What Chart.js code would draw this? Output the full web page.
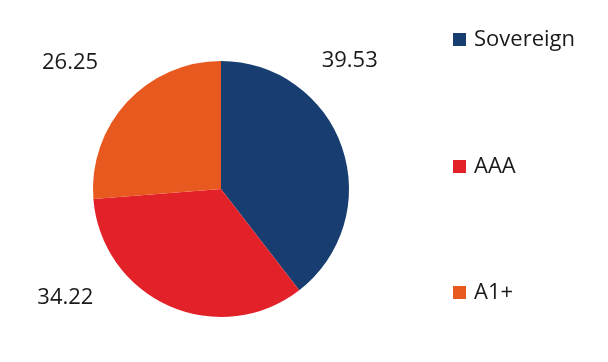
<!doctype html>
<html>

<head>
  <title>Rating distribution</title>
  <script src="https://cdn.jsdelivr.net/npm/chart.js@4.4.0/dist/chart.umd.min.js"></script>
  <style>
    html, body {
      margin: 0;
      padding: 0;
      background: #fff;
    }
    .chart {
      width: 608px;
      height: 362px;
    }
  </style>
</head>

<body>
  <div class="chart">
    <canvas id="myChart" width="608" height="362"></canvas>
  </div>

  <script>
    var ratings = ['Sovereign', 'AAA', 'A1+'];
    var shares = [39.53, 34.22, 26.25];
    var sliceColors = ['#183D70', '#E32129', '#E8591F'];

    var fontFamily = '"Open Sans", "Noto Sans", sans-serif';

    // value labels: angle (deg, clockwise from top) and distance from pie centre
    var labelSpots = [
      { angle: 45, dist: 182 },
      { angle: 235, dist: 190 },
      { angle: 310, dist: 197 }
    ];

    var labelsPlugin = {
      id: 'outerLabels',
      afterDraw: function(chart) {
        var ctx = chart.ctx;
        var meta = chart.getDatasetMeta(0);
        var arc = meta.data[0];
        var cx = arc.x, cy = arc.y;
        ctx.save();
        ctx.font = '22px ' + fontFamily;
        ctx.fillStyle = '#1a1a1a';
        ctx.textAlign = 'center';
        ctx.textBaseline = 'middle';
        chart.data.datasets[0].data.forEach(function(v, i) {
          var s = labelSpots[i];
          var a = s.angle * Math.PI / 180;
          ctx.fillText(v.toFixed(2), cx + Math.sin(a) * s.dist, cy - Math.cos(a) * s.dist);
        });

        // legend on the right, widely spaced
        var legendX = 453;
        var legendY = [40, 167, 293];
        ctx.textAlign = 'left';
        ctx.font = '22px ' + fontFamily;
        chart.data.labels.forEach(function(name, i) {
          ctx.fillStyle = chart.data.datasets[0].backgroundColor[i];
          ctx.fillRect(legendX, legendY[i] - 7, 13, 13);
          ctx.fillStyle = '#1a1a1a';
          ctx.fillText(name, legendX + 21, legendY[i]);
        });
        ctx.restore();
      }
    };

    var config = {
      type: 'pie',
      data: {
        labels: ratings,
        datasets: [{
          data: shares,
          backgroundColor: sliceColors,
          borderWidth: 0
        }]
      },
      options: {
        responsive: false,
        animation: false,
        layout: {
          padding: { left: 93, right: 259, top: 61, bottom: 45 }
        },
        plugins: {
          legend: { display: false },
          tooltip: { enabled: false }
        }
      },
      plugins: [labelsPlugin]
    };

    var ctx = document.getElementById('myChart').getContext('2d');
    window.myChart = new Chart(ctx, config);
  </script>
</body>

</html>
